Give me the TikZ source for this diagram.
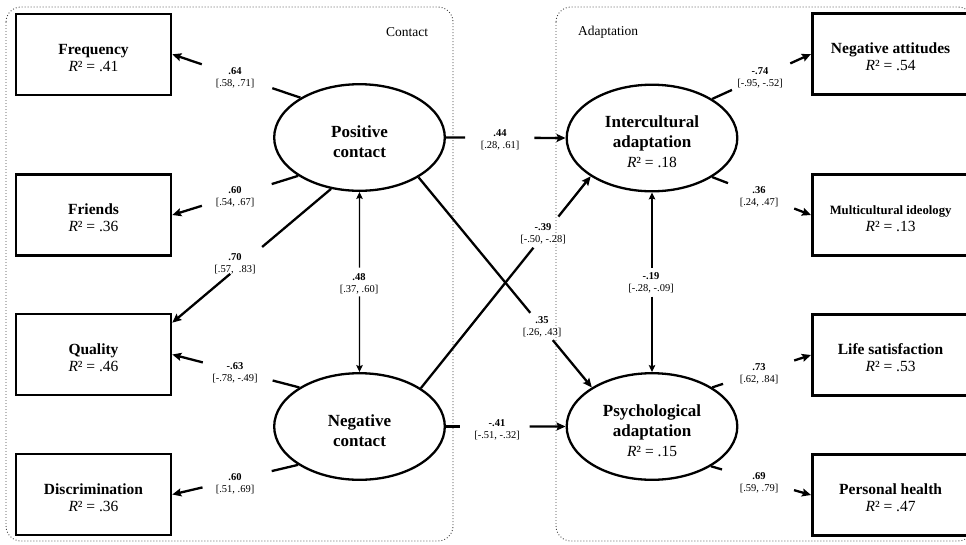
\documentclass[tikz,border=0pt]{standalone}
\usepackage{fontspec}
\setmainfont{Liberation Serif}
\usetikzlibrary{positioning, calc, shapes.geometric, arrows.meta}
\tikzstyle{Box} = [rectangle, draw, line width=2.6pt, minimum width=155pt,
minimum height=81pt, inner sep=0pt, align=center,
font=\fontsize{15.5}{17}\selectfont\bfseries]
\tikzstyle{Open} = [Box, minimum width=200pt, anchor=west]
\tikzstyle{Inner} = [inner sep=0pt, align=center,
font=\fontsize{15.5}{17}\selectfont\bfseries, xshift=-21.7pt]
\tikzstyle{Latent} = [ellipse, draw, line width=2.3pt, minimum width=170.6pt,
minimum height=106.6pt, inner sep=0pt, align=center,
font=\fontsize{17}{20}\selectfont\bfseries]
\tikzstyle{Line} = [line width=2.3pt]
\tikzstyle{Arrow} = [line width=2.3pt, -{Stealth[length=9pt, width=8pt, inset=1.5pt]}]
\tikzstyle{ThinIn} = [line width=1.2pt, {Stealth[length=7pt, width=6.5pt, inset=1.2pt]}-]
\tikzstyle{ThinOut} = [line width=1.2pt, -{Stealth[length=7pt, width=6.5pt, inset=1.2pt]}]
\tikzstyle{Coef} = [inner sep=0pt, align=center, font=\fontsize{10.5}{12}\selectfont]
\tikzstyle{Title} = [inner sep=0pt, font=\fontsize{13.5}{16}\selectfont]
\tikzstyle{Frame} = [draw=black!75, line width=0.9pt, dash pattern=on 0.9pt off 2.1pt,
rounded corners=15pt]
\newcommand{\Rsq}[1]{{\normalfont\fontsize{15.5}{17}\selectfont\textit{R}² = #1}}
\newcommand{\Obs}[2]{\rule{0pt}{17pt}#1\\\Rsq{#2}}
\newcommand{\Top}{\rule{0pt}{20pt}}
\newcommand{\Est}[2]{\textbf{#1}\\{#2}}
\newcommand{\Load}[4]{\draw[Line] (#1) -- ($(#1)!#3!(#2)$);
\draw[Arrow] ($(#1)!#4!(#2)$) -- (#2);}
\newcommand{\Corr}[4]{\draw[ThinIn] (#1) -- ($(#1)!#3!(#2)$);
\draw[ThinOut] ($(#1)!#4!(#2)$) -- (#2);}

\begin{document}
\begin{tikzpicture}[x=1pt, y=-1pt]
    \path[use as bounding box, clip] (0,0) rectangle (966,544);
    \draw[Frame] (6,7) rectangle (453,541);
    \draw[Frame] (556,7) rectangle (973,541);
    \node[Title] (28) at (407,32) {Contact};
    \node[Title] (29) at (608,32) {Adaptation};
    \node[Box] (1) at (93.5,54.3) {\Obs{Frequency}{.41}};
    \node[Box] (2) at (93.5,215) {\Obs{Friends}{.36}};
    \node[Box] (3) at (93.5,354.5) {\Obs{Quality}{.46}};
    \node[Box] (4) at (93.5,494.5) {\Obs{Discrimination}{.36}};
    \node[Latent] (5) at (359.5,137.5) {\Top Positive\\contact};
    \node[Latent] (6) at (359.5,426.5) {\Top Negative\\contact};
    \node[Latent] (7) at (652,138) {\Top Intercultural\\adaptation\\\Rsq{.18}};
    \node[Latent] (8) at (652,426.5) {\Top Psychological\\adaptation\\\Rsq{.15}};
    \node[Open, label={[Inner]center:\Obs{Negative attitudes}{.54}}] (9) at (811,54) {};
    \node[Open, label={[Inner]center:\Obs{{\fontsize{12.7}{15}\selectfont Multicultural ideology}}{.13}}]
        (10) at (811,215) {};
    \node[Open, label={[Inner]center:\Obs{Life satisfaction}{.53}}] (11) at (811,355) {};
    \node[Open, label={[Inner]center:\Obs{Personal health}{.47}}] (12) at (811,495) {};
    \Load{5.146.6}{1.east}{0.22}{0.77} \Load{5.212.7}{2.east}{0.21}{0.765}
    \Load{5.241.1}{3.22}{0.434}{0.635}
    \Load{6.147.3}{3.east}{0.21}{0.76} \Load{6.212.7}{4.east}{0.21}{0.76}
    \Load{5.east}{7.west}{0.16}{0.74} \Load{6.east}{8.west}{0.12}{0.70}
    \Load{5.326.6}{8.147.5}{0.645}{0.775} \Load{6.32.7}{7.212.8}{0.663}{0.81}
    \Load{7.33.3}{9.west}{0.2}{0.79} \Load{7.327}{10.west}{0.16}{0.83}
    \Load{8.33.4}{11.west}{0.11}{0.83} \Load{8.326.6}{12.west}{0.11}{0.83}
    \Corr{5.south}{6.north}{0.42}{0.58} \Corr{7.south}{8.north}{0.42}{0.58}
    \node[Coef] (13) at (235,77.5) {\Est{.64}{[.58, .71]}};
    \node[Coef] (14) at (235,197) {\Est{.60}{[.54, .67]}};
    \node[Coef] (15) at (235,264) {\Est{.70}{[.57, \ .83]}};
    \node[Coef] (16) at (235,373) {\Est{-.63}{[-.78, -.49]}};
    \node[Coef] (17) at (235,483.5) {\Est{.60}{[.51, .69]}};
    \node[Coef] (18) at (359,283.5) {\Est{.48}{[.37, .60]}};
    \node[Coef] (19) at (500,139.5) {\Est{.44}{[.28, .61]}};
    \node[Coef] (20) at (543,233.5) {\Est{-.39}{[-.50, -.28]}};
    \node[Coef] (21) at (542,327) {\Est{.35}{[.26, .43]}};
    \node[Coef] (22) at (497,430) {\Est{-.41}{[-.51, -.32]}};
    \node[Coef] (23) at (651,283) {\Est{-.19}{[-.28, -.09]}};
    \node[Coef] (24) at (760,78) {\Est{-.74}{[-.95, -.52]}};
    \node[Coef] (25) at (759,197) {\Est{.36}{[.24, .47]}};
    \node[Coef] (26) at (759,373.5) {\Est{.73}{[.62, .84]}};
    \node[Coef] (27) at (759,483) {\Est{.69}{[.59, .79]}};
\end{tikzpicture}
\end{document}
